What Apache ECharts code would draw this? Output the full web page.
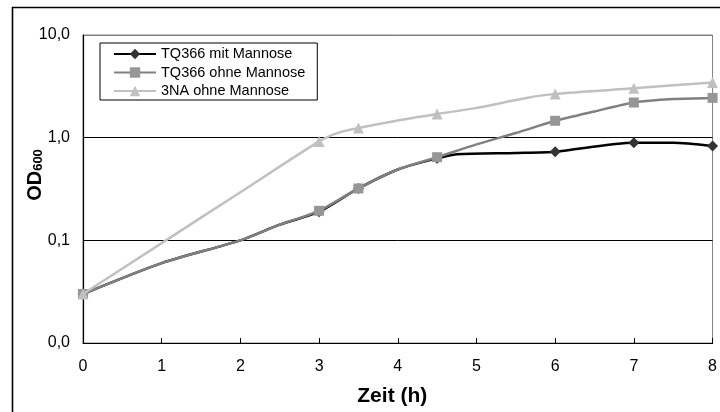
<!DOCTYPE html>
<html><head><meta charset="utf-8">
<script src="https://cdn.jsdelivr.net/npm/echarts@6/dist/echarts.min.js"></script>
<style>html,body{margin:0;padding:0;background:#fff}#c{width:720px;height:412px}</style>
</head><body><div id="c"></div>
<script>
const seriesNames = ['TQ366 mit Mannose', 'TQ366 ohne Mannose', '3NA ohne Mannose'];
const markerTimes = [0, 3, 3.5, 4.5, 6, 7, 8];
const mitX = [0, 1, 2, 2.5, 3, 3.5, 4, 4.5, 4.75, 5.5, 6, 7, 7.5, 8];
const mitY = [0.03, 0.06, 0.1, 0.142, 0.19, 0.32, 0.49, 0.63, 0.69, 0.71, 0.73, 0.89, 0.89, 0.83];
const ohneX = [0, 1, 2, 2.5, 3, 3.5, 4, 4.5, 5, 5.5, 5.7, 6, 6.5, 7, 7.5, 8];
const ohneY = [0.03, 0.06, 0.1, 0.142, 0.194, 0.32, 0.49, 0.645, 0.86, 1.11, 1.24, 1.46, 1.8, 2.2, 2.38, 2.44];
const naX = [0, 1, 2, 3, 3.25, 3.5, 4, 4.5, 5, 5.65, 6, 7, 8];
const naY = [0.03, 0.094, 0.294, 0.92, 1.12, 1.24, 1.47, 1.7, 1.95, 2.45, 2.67, 3.03, 3.45];
const xTicks = [0, 1, 2, 3, 4, 5, 6, 7, 8];
const yTickValues = [0.01, 0.1, 1, 10];
const yTickLabels = ['0,0', '0,1', '1,0', '10,0'];

const FONT = '"Liberation Sans", Arial, sans-serif';
function build(xs, ys, sym) {
  return xs.map((x, i) => ({
    value: [x, ys[i]],
    symbol: markerTimes.indexOf(x) >= 0 ? sym : 'none'
  }));
}
const chart = echarts.init(document.getElementById('c'));
chart.setOption({
  animation: false,
  backgroundColor: '#fff',
  graphic: [{
    type: 'rect', left: 10, top: 5, z: 100, silent: true,
    shape: { x: 0, y: 0, width: 760, height: 460 },
    style: { fill: 'none', stroke: '#000', lineWidth: 1.6 }
  }],
  grid: { left: 83, right: 1, top: 35, bottom: 61, show: true, borderColor: '#808080', borderWidth: 1, backgroundColor: 'transparent' },
  legend: {
    orient: 'vertical', left: 100, top: 43,
    padding: [3, 12, 1, 13], itemGap: 2.5, itemWidth: 42, itemHeight: 13,
    borderColor: '#000', borderWidth: 1, backgroundColor: '#fff',
    textStyle: { fontFamily: FONT, fontSize: 14.5, lineHeight: 16, color: '#000' },
    data: seriesNames
  },
  xAxis: {
    type: 'value', min: xTicks[0], max: xTicks[xTicks.length - 1], interval: 1,
    name: 'Zeit (h)', nameLocation: 'middle', nameGap: 43, nameMoveOverlap: false,
    nameTextStyle: { fontFamily: FONT, fontSize: 21, fontWeight: 'bold', color: '#000', padding: [0, 11, 0, 0] },
    axisLine: { lineStyle: { color: '#000', width: 1.2 } },
    axisTick: { inside: true, length: 5, lineStyle: { color: '#000' } },
    axisLabel: { fontFamily: FONT, fontSize: 16, color: '#000', margin: 16 },
    splitLine: { show: false }
  },
  yAxis: {
    type: 'log', logBase: 10, min: yTickValues[0], max: yTickValues[yTickValues.length - 1],
    name: '{a|OD}{b|600}', nameLocation: 'middle', nameGap: 38, nameRotate: 90, nameMoveOverlap: false,
    nameTextStyle: {
      padding: [0, 0, 0, 28],
      rich: {
        a: { fontFamily: FONT, fontSize: 20, fontWeight: 'bold', color: '#000', lineHeight: 24, verticalAlign: 'bottom' },
        b: { fontFamily: FONT, fontSize: 13, fontWeight: 'bold', color: '#000', lineHeight: 18, verticalAlign: 'bottom' }
      }
    },
    axisLine: { show: true, lineStyle: { color: '#000', width: 1.2 } },
    axisTick: { show: false },
    axisLabel: {
      fontFamily: FONT, fontSize: 16, color: '#000', margin: 13,
      formatter: v => yTickLabels[Math.round(Math.log10(v)) + 2]
    },
    splitLine: { show: true, lineStyle: { color: ['#000', '#000', '#000', '#808080'], width: 1 } },
    minorTick: { show: false }
  },
  series: [
    {
      name: seriesNames[0], type: 'line', smooth: 0.25, symbol: 'diamond', symbolSize: 11,
      data: build(mitX, mitY, 'diamond'),
      lineStyle: { color: '#000', width: 2.5 },
      itemStyle: { color: '#333', borderWidth: 0 }, z: 2
    },
    {
      name: seriesNames[1], type: 'line', smooth: 0.25, symbol: 'rect', symbolSize: 10,
      data: build(ohneX, ohneY, 'rect'),
      lineStyle: { color: '#808080', width: 2.5 },
      itemStyle: { color: '#969696', borderWidth: 0 }, z: 3
    },
    {
      name: seriesNames[2], type: 'line', smooth: 0.25, symbol: 'triangle', symbolSize: 11,
      data: build(naX, naY, 'triangle'),
      lineStyle: { color: '#c0c0c0', width: 2.5 },
      itemStyle: { color: '#c0c0c0', borderWidth: 0 }, z: 4
    }
  ]
});
</script></body></html>
